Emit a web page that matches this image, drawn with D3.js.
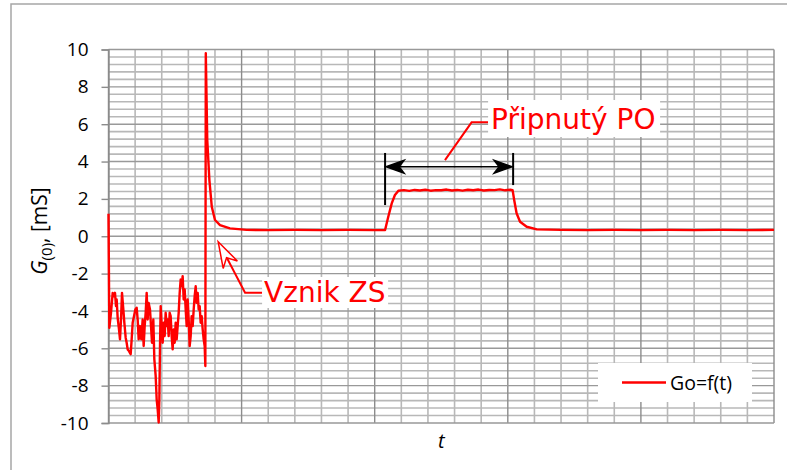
<!DOCTYPE html>
<html>
<head>
<meta charset="utf-8">
<script src="https://cdn.jsdelivr.net/npm/d3@7/dist/d3.min.js"></script>
<style>
  body { margin: 0; background: #fff; }
  svg { display: block; }
</style>
</head>
<body>
<svg id="chart" width="787" height="470"></svg>
<script>
// Measured conductance trace: time in grid units, Go in mS
const time = [
  0, 0.031, 0.094, 0.157, 0.207, 0.244, 0.282, 0.307, 0.344, 0.394, 0.432, 0.470, 0.507,
  0.557, 0.595, 0.645, 0.682, 0.720, 0.770, 0.833, 0.870, 0.908, 0.958, 1.008, 1.058,
  1.096, 1.133, 1.183, 1.233, 1.283, 1.321, 1.359, 1.396, 1.434, 1.471, 1.509, 1.559,
  1.597, 1.634, 1.684, 1.722, 1.772, 1.809, 1.847, 1.885, 1.910, 1.935, 1.960, 1.997,
  2.035, 2.072, 2.110, 2.147, 2.185, 2.223, 2.260, 2.298, 2.335, 2.373, 2.410, 2.448,
  2.486, 2.523, 2.561, 2.598, 2.636, 2.674, 2.711, 2.749, 2.786, 2.824, 2.862, 2.899,
  2.937, 2.974, 3.012, 3.049, 3.087, 3.124, 3.162, 3.200, 3.237, 3.275, 3.312, 3.350,
  3.387, 3.425, 3.462, 3.500, 3.538, 3.575, 3.613, 3.638,
  3.655, 3.71, 3.79, 3.88, 4.0, 4.19, 4.56, 5.19, 6, 7, 8, 9, 10, 10.39,
  10.51, 10.64, 10.76, 10.89,
  11.1, 11.3, 11.5, 11.7, 11.9, 12.1, 12.3, 12.5, 12.7, 12.9, 13.1, 13.3, 13.5, 13.7,
  13.9, 14.1, 14.3, 14.5, 14.7, 14.9, 15.1, 15.18,
  15.24, 15.33, 15.46, 15.71, 16.09, 17, 18, 19, 20, 21, 22, 23, 24, 25
];
const conductance = [
  1.2, -4.90, -4.10, -3.03, -3.21, -3.03, -3.74, -3.39, -4.37, -4.99, -5.52, -4.46, -3.03,
  -3.92, -4.63, -5.43, -5.70, -6.06, -6.15, -6.32, -5.52, -4.63, -4.28, -3.92, -3.83,
  -4.46, -5.52, -4.81, -5.52, -4.46, -5.88, -4.81, -4.10, -3.03, -4.46, -3.57, -3.92,
  -4.81, -5.70, -4.46, -6.59, -7.48, -8.73, -9.26, -9.97, -8.73, -5.88, -3.74, -4.81,
  -5.70, -4.63, -5.35, -4.10, -4.81, -4.46, -5.35, -4.10, -4.28, -5.35, -6.06, -4.99,
  -5.70, -4.63, -5.52, -4.81, -4.10, -3.03, -2.32, -2.68, -2.14, -3.39, -2.85, -3.92,
  -4.81, -3.39, -4.46, -5.88, -5.35, -4.28, -4.81, -3.92, -3.21, -2.68, -3.57, -3.03,
  -3.92, -3.74, -4.63, -4.28, -4.99, -5.52, -5.88, -6.95,
  9.8, 5.15, 3.01, 1.58, 0.87, 0.60, 0.42, 0.34, 0.33, 0.34, 0.33, 0.34, 0.33, 0.33,
  1.04, 1.76, 2.21, 2.44,
  2.47, 2.43, 2.48, 2.45, 2.49, 2.44, 2.47, 2.46, 2.50, 2.45, 2.48, 2.44, 2.49, 2.46,
  2.50, 2.45, 2.48, 2.47, 2.51, 2.46, 2.49, 2.47,
  1.94, 1.23, 0.78, 0.51, 0.37, 0.34, 0.33, 0.34, 0.33, 0.34, 0.33, 0.34, 0.33, 0.34
];
const yTickValues = [-10, -8, -6, -4, -2, 0, 2, 4, 6, 8, 10];
const seriesName = "Go=f(t)";
const faultLabel = "Vznik ZS";
const connectLabel = "Připnutý PO";

const svg = d3.select("#chart");
const plot = { left: 108.5, right: 774, top: 49.5, bottom: 423 };

const x = d3.scaleLinear().domain([0, 25]).range([plot.left, plot.right]);
const y = d3.scaleLinear().domain([-10, 10]).range([plot.bottom, plot.top]);

// outer chart frame
svg.append("rect")
  .attr("x", 11).attr("y", 4).attr("width", 800).attr("height", 520)
  .attr("fill", "#fff").attr("stroke", "#a6a6a6").attr("stroke-width", 1.5);

const grid = svg.append("g");
const minorX = d3.range(0, 26, 1);
const minorY = d3.range(0, 51).map(i => +(-10 + i * 0.4).toFixed(2));
const isMajorY = v => Math.abs(v / 2 - Math.round(v / 2)) < 1e-6;

// minor gridlines
grid.selectAll("line.mx").data(minorX.filter(v => v % 5 !== 0)).join("line")
  .attr("class", "mx")
  .attr("x1", d => x(d)).attr("x2", d => x(d))
  .attr("y1", plot.top).attr("y2", plot.bottom)
  .attr("stroke", "#b8b8b8").attr("stroke-width", 1.6);
grid.selectAll("line.my").data(minorY.filter(v => !isMajorY(v))).join("line")
  .attr("class", "my")
  .attr("x1", plot.left).attr("x2", plot.right)
  .attr("y1", d => y(d)).attr("y2", d => y(d))
  .attr("stroke", "#b8b8b8").attr("stroke-width", 1.6);

// major gridlines
grid.selectAll("line.Mx").data(minorX.filter(v => v % 5 === 0)).join("line")
  .attr("class", "Mx")
  .attr("x1", d => x(d)).attr("x2", d => x(d))
  .attr("y1", plot.top).attr("y2", plot.bottom)
  .attr("stroke", "#8c8c8c").attr("stroke-width", 1.4);
grid.selectAll("line.My").data(yTickValues).join("line")
  .attr("class", "My")
  .attr("x1", plot.left).attr("x2", plot.right)
  .attr("y1", d => y(d)).attr("y2", d => y(d))
  .attr("stroke", "#999").attr("stroke-width", 1.4);

// y axis
const yAxis = svg.append("g")
  .attr("transform", `translate(${plot.left},0)`)
  .call(d3.axisLeft(y).tickValues(yTickValues).tickSize(7).tickPadding(13).tickFormat(d3.format("d")));
yAxis.select(".domain").attr("stroke", "#8c8c8c").attr("stroke-width", 1.4);
yAxis.selectAll(".tick line").attr("stroke", "#8c8c8c").attr("stroke-width", 1.4);
yAxis.selectAll(".tick text")
  .attr("font-family", "'Open Sans', sans-serif").attr("font-size", 19).attr("fill", "#000")
  .text(d => d < 0 ? "-" + Math.abs(d) : d);

// y axis title
const yTitle = svg.append("text")
  .attr("transform", `translate(47, 231) rotate(-90)`)
  .attr("text-anchor", "middle")
  .attr("font-family", "'Open Sans', sans-serif").attr("font-size", 21).attr("fill", "#000");
yTitle.append("tspan").attr("font-style", "italic").text("G");
yTitle.append("tspan").attr("font-size", 15).attr("dy", 5).text("(0)");
yTitle.append("tspan").attr("dy", -5).text(", [mS]");

// x axis title
svg.append("text")
  .attr("x", (plot.left + plot.right) / 2).attr("y", 448)
  .attr("text-anchor", "middle")
  .attr("font-family", "'Open Sans', sans-serif").attr("font-size", 20)
  .attr("font-style", "italic").attr("fill", "#000").text("t");

// measured trace
const points = time.map((t, i) => [t, conductance[i]]);
svg.append("path")
  .datum(points)
  .attr("fill", "none").attr("stroke", "#ff0000").attr("stroke-width", 2.4)
  .attr("stroke-linejoin", "round")
  .attr("d", d3.line().x(d => x(d[0])).y(d => y(d[1])));

// helper: stealth arrowhead at tip, pointing from "from" toward tip
function arrowHead(g, tip, from, len, half, notch, fill, stroke) {
  const dx = tip[0] - from[0], dy = tip[1] - from[1];
  const L = Math.hypot(dx, dy), ux = dx / L, uy = dy / L, nx = -uy, ny = ux;
  const bx = tip[0] - ux * len, by = tip[1] - uy * len;
  const p = [
    tip,
    [bx + nx * half, by + ny * half],
    [tip[0] - ux * (len - notch), tip[1] - uy * (len - notch)],
    [bx - nx * half, by - ny * half]
  ];
  g.append("path").attr("d", "M" + p.map(q => q.join(",")).join("L") + "Z")
    .attr("fill", fill).attr("stroke", stroke).attr("stroke-width", 1.5)
    .attr("stroke-linejoin", "miter");
}

const ann = svg.append("g");

// interval of the connected element: double arrow with end bars
const spanStart = 10.39, spanEnd = 15.2, spanLevel = 3.72;
ann.append("line")
  .attr("x1", x(spanStart)).attr("x2", x(spanStart))
  .attr("y1", y(4.46)).attr("y2", y(1.67))
  .attr("stroke", "#000").attr("stroke-width", 2);
ann.append("line")
  .attr("x1", x(spanEnd)).attr("x2", x(spanEnd))
  .attr("y1", y(4.46)).attr("y2", y(2.74))
  .attr("stroke", "#000").attr("stroke-width", 2);
ann.append("line")
  .attr("x1", x(spanStart) + 8).attr("x2", x(spanEnd) - 8)
  .attr("y1", y(spanLevel)).attr("y2", y(spanLevel))
  .attr("stroke", "#000").attr("stroke-width", 1.6);
arrowHead(ann, [x(spanStart) + 1, y(spanLevel)], [x(spanEnd), y(spanLevel)], 18, 6.5, 5, "#000", "#000");
arrowHead(ann, [x(spanEnd) - 1, y(spanLevel)], [x(spanStart), y(spanLevel)], 18, 6.5, 5, "#000", "#000");

// callout: element connected
ann.append("path")
  .attr("d", d3.line()([[x(12.64), y(4.08)], [x(13.64), y(6.10)], [x(14.26), y(6.10)]]))
  .attr("fill", "none").attr("stroke", "#ff0000").attr("stroke-width", 2);
ann.append("rect")
  .attr("x", x(14.26)).attr("y", 100).attr("width", 172).attr("height", 37).attr("fill", "#fff");
ann.append("text")
  .attr("x", x(14.26) + 3).attr("y", 128.5)
  .attr("font-family", "'DejaVu Sans', sans-serif").attr("font-size", 28).attr("fill", "#ff0000")
  .text(connectLabel);

// callout: fault onset
const faultTip = [x(4.12), y(-0.29)], faultElbow = [x(5.13), y(-3.03)];
ann.append("path")
  .attr("d", d3.line()([[faultTip[0] + 6, faultTip[1] + 11], faultElbow, [x(5.77), y(-3.03)]]))
  .attr("fill", "none").attr("stroke", "#ff0000").attr("stroke-width", 2);
arrowHead(ann, faultTip, faultElbow, 26, 8, 8, "#fff", "#ff0000");
ann.append("rect")
  .attr("x", x(5.77)).attr("y", 277).attr("width", 126).attr("height", 31).attr("fill", "#fff");
ann.append("text")
  .attr("x", x(5.77) + 2).attr("y", 301.5)
  .attr("font-family", "'DejaVu Sans', sans-serif").attr("font-size", 28).attr("fill", "#ff0000")
  .text(faultLabel);

// legend
const legend = svg.append("g");
legend.append("rect").attr("x", 598).attr("y", 363).attr("width", 154).attr("height", 39).attr("fill", "#fff");
legend.append("line").attr("x1", 622).attr("x2", 666).attr("y1", 382.5).attr("y2", 382.5)
  .attr("stroke", "#ff0000").attr("stroke-width", 2.4);
legend.append("text").attr("x", 670).attr("y", 390)
  .attr("font-family", "'Open Sans', sans-serif").attr("font-size", 19.5).attr("fill", "#000")
  .text(seriesName);
</script>
</body>
</html>
